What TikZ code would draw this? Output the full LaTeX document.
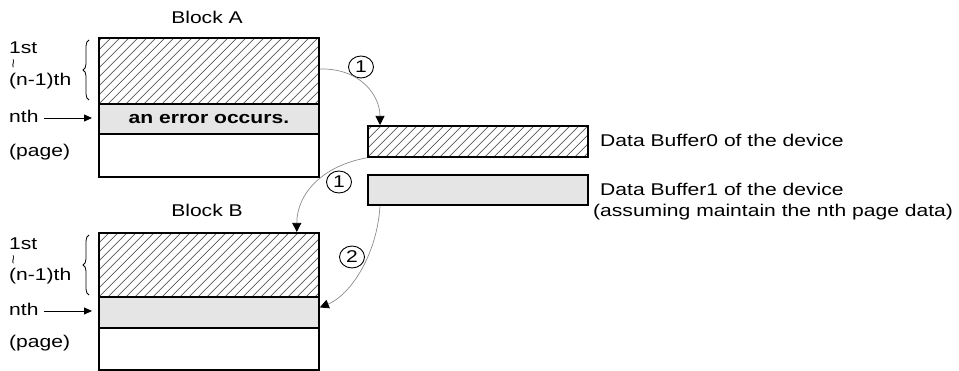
\documentclass[tikz,border=0pt]{standalone}
\usepackage{fontspec}
\setmainfont{Liberation Sans}[FakeStretch=1.24]
\usetikzlibrary{arrows.meta,decorations.pathreplacing,shapes.geometric}
\definecolor{hatchcol}{gray}{0.35}
\definecolor{bandgray}{gray}{0.90}
\definecolor{curvegray}{gray}{0.55}
\begin{document}
\begin{tikzpicture}[x=1pt,y=-1pt,
  every node/.style={inner sep=0pt, font=\fontsize{17}{20}\selectfont},
  box/.style={draw, line width=1.8pt, minimum width=220pt, anchor=north west},
  hatchbox/.style={box, fill=white, path picture={
      \foreach \i in {-8,...,26}{\draw[hatchcol, line width=0.7pt]
        ([xshift=\i*9pt]path picture bounding box.south west) -- ++(80pt,80pt);}}},
  bandbox/.style={box, fill=bandgray},
  whitebox/.style={box, fill=white},
  lbl/.style={anchor=base west},
  circnum/.style={ellipse, draw, line width=0.9pt, minimum width=25pt, minimum height=22pt},
  flow/.style={curvegray, line width=0.7pt, -{Triangle[length=9pt,width=9pt,color=black]}},
  pointer/.style={black, line width=0.8pt, -{Triangle[length=8pt,width=7pt]}},
  bracestyle/.style={decorate, decoration={brace, amplitude=6pt}, line width=0.8pt},
  squiggle/.style={font=\fontsize{13}{13}\selectfont}
]
\useasboundingbox (0,0) rectangle (959,371);

% Block A
\node[anchor=base] (titleA) at (207,24) {Block A};
\node[hatchbox, minimum height=66pt] (Ah) at (98,37) {};
\node[bandbox, minimum height=30pt] (Ag) at (98,103) {\bfseries an error occurs.};
\node[whitebox, minimum height=43pt] (Aw) at (98,133) {};

% Block B
\node[anchor=base] (titleB) at (207,217) {Block B};
\node[hatchbox, minimum height=64pt] (Bh) at (98,232) {};
\node[bandbox, minimum height=31pt] (Bg) at (98,296) {};
\node[whitebox, minimum height=42pt] (Bw) at (98,327) {};

% Buffers
\node[hatchbox, minimum height=31pt] (B0) at (367,125) {};
\node[bandbox, minimum height=30pt] (B1) at (367,174) {};
\node[lbl] (t0) at (600,147) {Data Buffer0 of the device};
\node[lbl] (t1) at (600,196) {Data Buffer1 of the device};
\node[lbl] (t2) at (593,217) {(assuming maintain the nth page data)};

% Left labels A
\node[lbl] (a1) at (9,54) {1st};
\node[squiggle] (atil) at (15,64) {\rotatebox{90}{\textasciitilde}};
\node[lbl] (a2) at (9,86) {(n-1)th};
\node[lbl] (a3) at (9,123) {nth};
\node[lbl] (a4) at (9,157) {(page)};
\coordinate (aarr) at (92,118);
\draw[pointer] (a3.east |- aarr) ++(5pt,0) -- (aarr);
\coordinate (abr1) at (89,100);
\coordinate (abr2) at (89,40);
\draw[bracestyle] (abr1) -- (abr2);

% Left labels B
\node[lbl] (b1) at (9,250) {1st};
\node[squiggle] (btil) at (15,260) {\rotatebox{90}{\textasciitilde}};
\node[lbl] (b2) at (9,281) {(n-1)th};
\node[lbl] (b3) at (9,316) {nth};
\node[lbl] (b4) at (9,348) {(page)};
\coordinate (barr) at (92,311);
\draw[pointer] (b3.east |- barr) ++(5pt,0) -- (barr);
\coordinate (bbr1) at (89,295);
\coordinate (bbr2) at (89,235);
\draw[bracestyle] (bbr1) -- (bbr2);

% Circled numbers
\node[circnum] (c1) at (361,67) {1};
\node[circnum] (c2) at (339,182) {1};
\node[circnum] (c3) at (352,257) {2};

% Flows
\draw[flow] ([yshift=-32pt]Ah.north east) .. controls +(40,-1) and +(0,-30) .. ([xshift=13pt]B0.north west);
\draw[flow] (B0.south west) .. controls +(-45,8) and +(0,-38) .. ([xshift=-23pt]Bh.north east);
\draw[flow] ([xshift=13pt]B1.south west) .. controls +(-3,50) and +(30,-12) .. ([yshift=5pt]Bg.east);
\end{tikzpicture}
\end{document}
